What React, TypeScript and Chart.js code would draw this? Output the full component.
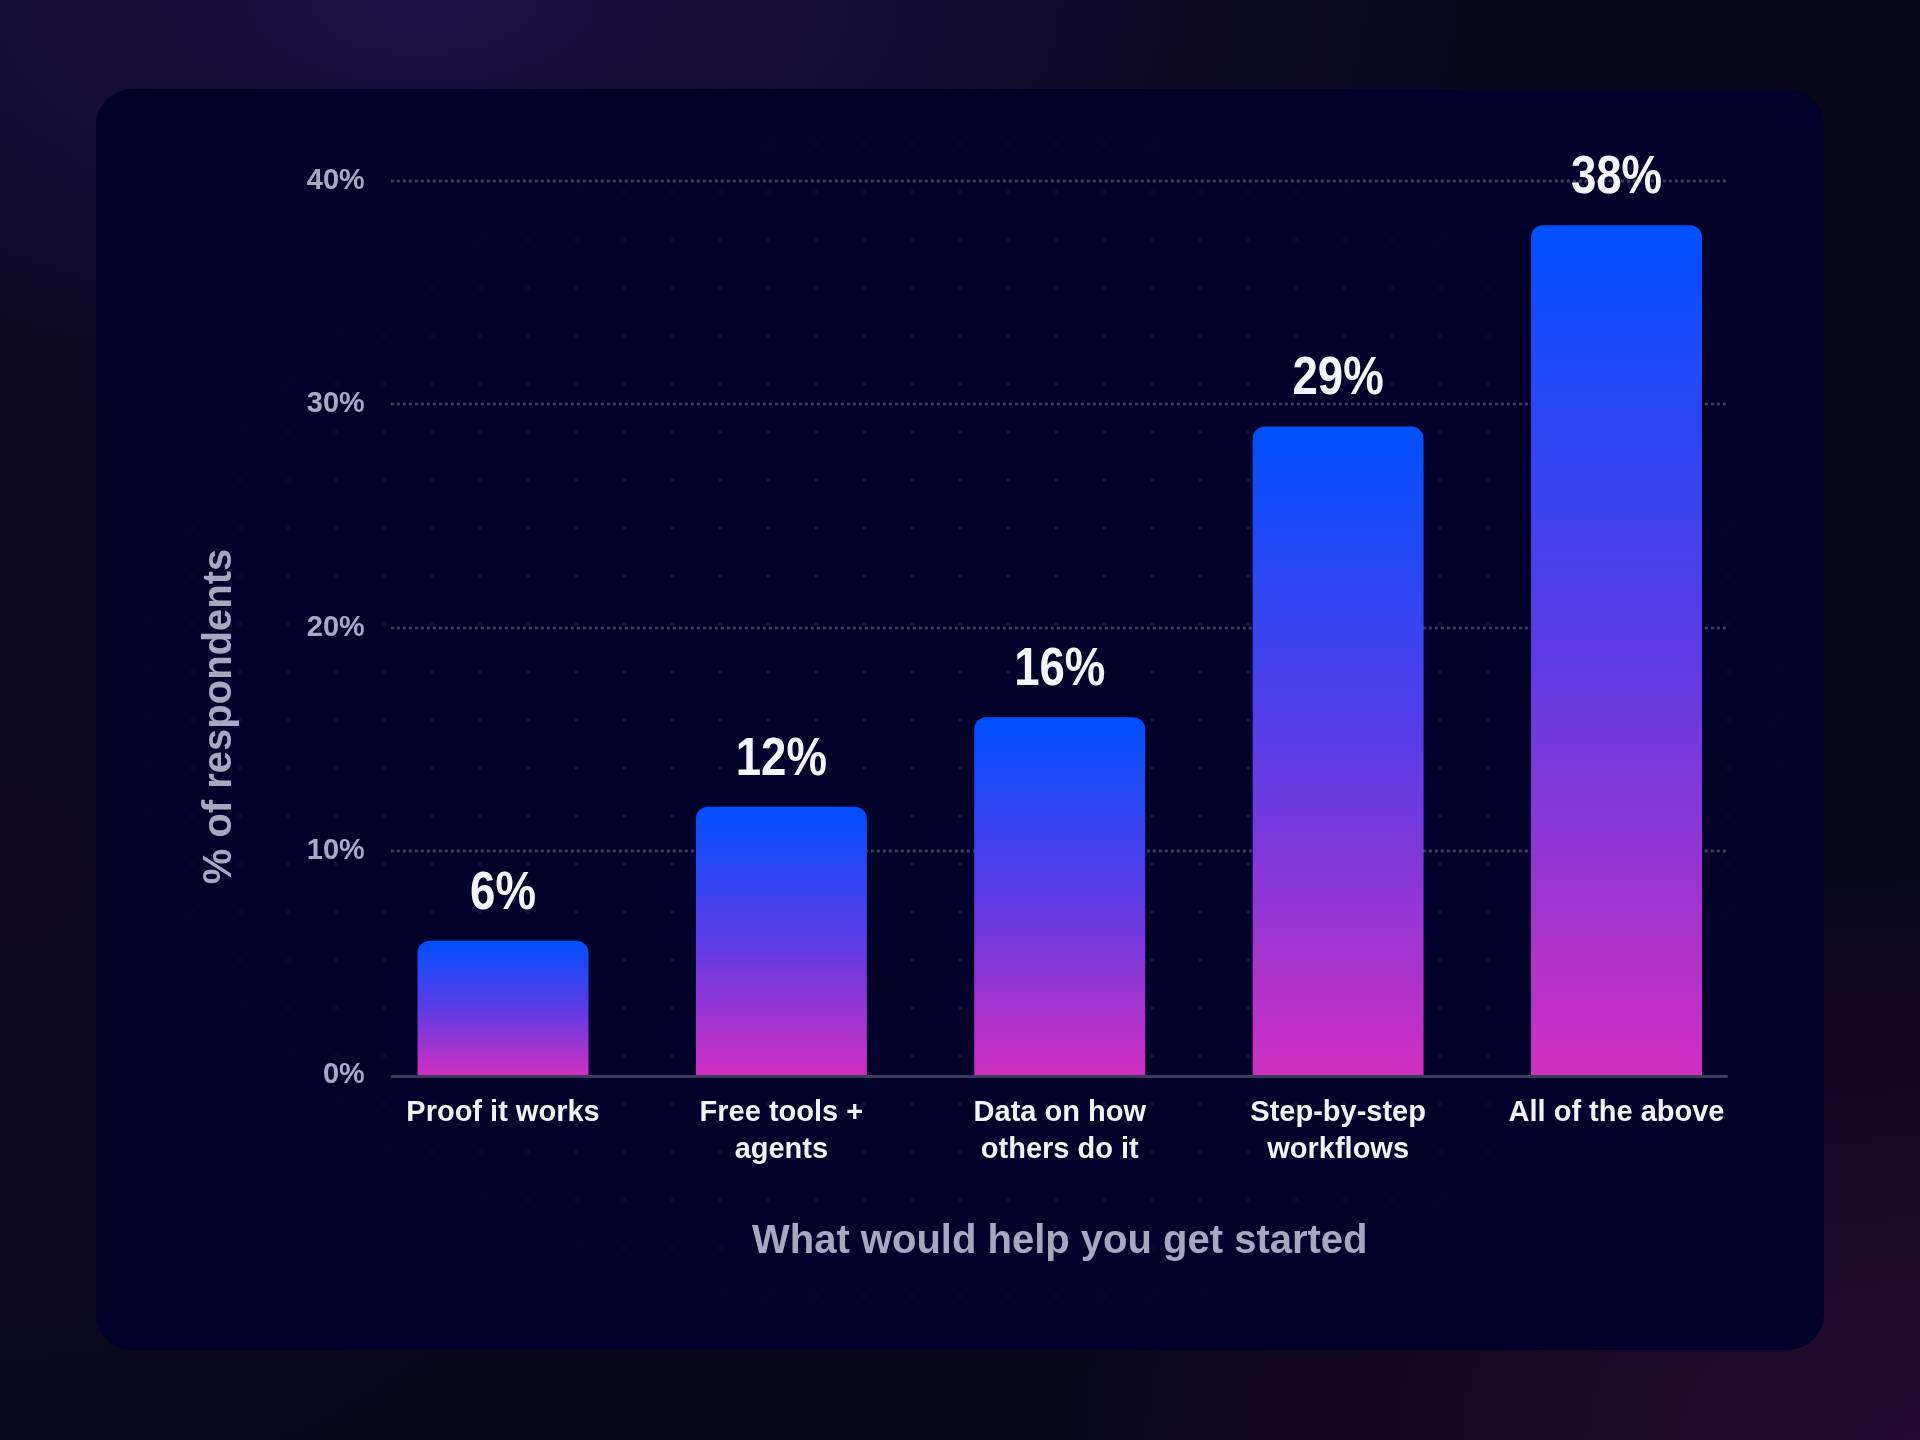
import { useEffect, useRef } from "react";
import { Chart, registerables } from "chart.js";

Chart.register(...registerables);

// data
const categories = [
  ["Proof it works"],
  ["Free tools +", "agents"],
  ["Data on how", "others do it"],
  ["Step-by-step", "workflows"],
  ["All of the above"],
];
const shares = [6, 12, 16, 29, 38];
const yMax = 40;
const yStep = 10;

const xTitle = "What would help you get started";
const yTitle = "% of respondents";

const FONT = '"Liberation Sans", Arial, sans-serif';

// dotted grid, base line, value labels and both titles
const decor = {
  id: "decor",
  beforeDatasetsDraw(chart: any) {
    const { ctx, chartArea: a, scales } = chart;
    const y = scales.y;
    ctx.save();
    ctx.strokeStyle = "#3e3e66";
    ctx.lineWidth = 3;
    ctx.setLineDash([3, 3]);
    y.ticks.forEach((t: any) => {
      if (t.value === 0) return;
      const py = Math.round(y.getPixelForValue(t.value));
      ctx.beginPath();
      ctx.moveTo(a.left + 27, py);
      ctx.lineTo(a.right - 28, py);
      ctx.stroke();
    });
    ctx.setLineDash([]);
    ctx.strokeStyle = "#3b3b5c";
    const base = y.getPixelForValue(0) + 1.5;
    ctx.beginPath();
    ctx.moveTo(a.left + 27, base);
    ctx.lineTo(a.right - 28, base);
    ctx.stroke();
    ctx.restore();
  },
  afterDatasetsDraw(chart: any) {
    const { ctx, chartArea: a } = chart;
    const meta = chart.getDatasetMeta(0);
    ctx.save();
    ctx.font = `bold 53px ${FONT}`;
    ctx.fillStyle = "#f5f5ff";
    ctx.textAlign = "center";
    ctx.textBaseline = "alphabetic";
    meta.data.forEach((bar: any, i: number) => {
      ctx.save();
      ctx.translate(bar.x, bar.y - 32);
      ctx.scale(0.86, 1);
      ctx.fillText(`${shares[i]}%`, 0, 0);
      ctx.restore();
    });

    ctx.fillStyle = "#a7a7c2";
    ctx.font = `bold 40px ${FONT}`;
    ctx.fillText(xTitle, (a.left + a.right) / 2, a.bottom + 178);

    ctx.translate(a.left - 133, chart.height / 2 - 3);
    ctx.rotate(-Math.PI / 2);
    ctx.font = `bold 40px ${FONT}`;
    ctx.fillText(yTitle, 0, 0);
    ctx.restore();
  },
};

const BarChart = () => {
  const canva = useRef<HTMLCanvasElement | null>(null);

  useEffect(() => {
    if (!canva.current) return;

    const chart = new Chart(canva.current, {
      type: "bar",
      data: {
        labels: categories,
        datasets: [
          {
            data: shares,
            backgroundColor: (c: any) => {
              if (!c.chart.chartArea || c.type !== "data") return "#0050ff";
              const y = c.chart.scales.y;
              const top = y.getPixelForValue(c.parsed.y);
              const bottom = y.getPixelForValue(0);
              const g = c.chart.ctx.createLinearGradient(0, top, 0, bottom);
              g.addColorStop(0, "#0050ff");
              g.addColorStop(0.5, "#5c3ce6");
              g.addColorStop(1, "#d02fc0");
              return g;
            },
            borderRadius: 12,
            borderSkipped: "bottom",
            barPercentage: 0.614,
            categoryPercentage: 1,
          },
        ],
      },
      options: {
        animation: false,
        responsive: true,
        maintainAspectRatio: false,
        layout: { padding: { top: 91.5, right: 68.3, bottom: 175, left: 0 } },
        plugins: {
          legend: { display: false },
          tooltip: { enabled: false },
        },
        scales: {
          x: {
            grid: { display: false },
            border: { display: false },
            ticks: {
              color: "#f3f3fb",
              font: { family: FONT, size: 29, weight: "bold", lineHeight: 1.26 },
              padding: 12,
              maxRotation: 0,
              autoSkip: false,
            },
            afterFit: (s: any) => {
              s.height = 100;
            },
          },
          y: {
            min: 0,
            max: yMax,
            grid: { display: false },
            border: { display: false },
            ticks: {
              stepSize: yStep,
              padding: -9,
              color: "#a9a9c6",
              font: { family: FONT, size: 29, weight: "bold" },
              callback: (v: any) => `${v}%`,
            },
            afterFit: (s: any) => {
              s.width = 267.8;
            },
          },
        },
      },
      plugins: [decor],
    });

    return () => {
      chart.destroy();
    };
  }, []);

  return <canvas ref={canva} />;
};

export default function App() {
  useEffect(() => {
    document.body.style.margin = "0";
  }, []);

  return (
    <div
      style={{
        position: "relative",
        width: 1920,
        height: 1440,
        overflow: "hidden",
        backgroundColor: "#08071a",
        backgroundImage:
          "radial-gradient(ellipse 55% 35% at 22% 0%, rgba(30,18,72,0.95), rgba(30,18,72,0) 100%)," +
          "radial-gradient(ellipse 45% 40% at 100% 100%, rgba(40,12,52,0.95), rgba(40,12,52,0) 100%)," +
          "radial-gradient(ellipse 40% 50% at 0% 60%, rgba(18,12,36,0.8), rgba(18,12,36,0) 100%)",
      }}
    >
      <div
        style={{
          position: "absolute",
          left: 95.5,
          top: 89,
          width: 1728,
          height: 1261,
          borderRadius: 36,
          background: "#01012a",
          overflow: "hidden",
        }}
      >
        <div
          style={{
            position: "absolute",
            inset: 0,
            backgroundImage:
              "radial-gradient(circle, rgba(80,80,160,0.24) 2px, rgba(80,80,160,0) 2.6px)",
            backgroundSize: "48px 48px",
            backgroundPosition: "-23.8px -17px",
            maskImage:
              "radial-gradient(ellipse 70% 70% at 50% 50%, #000 30%, rgba(0,0,0,0) 82%)",
            WebkitMaskImage:
              "radial-gradient(ellipse 70% 70% at 50% 50%, #000 30%, rgba(0,0,0,0) 82%)",
          }}
        />
        <div style={{ position: "absolute", inset: 0 }}>
          <BarChart />
        </div>
      </div>
    </div>
  );
}
